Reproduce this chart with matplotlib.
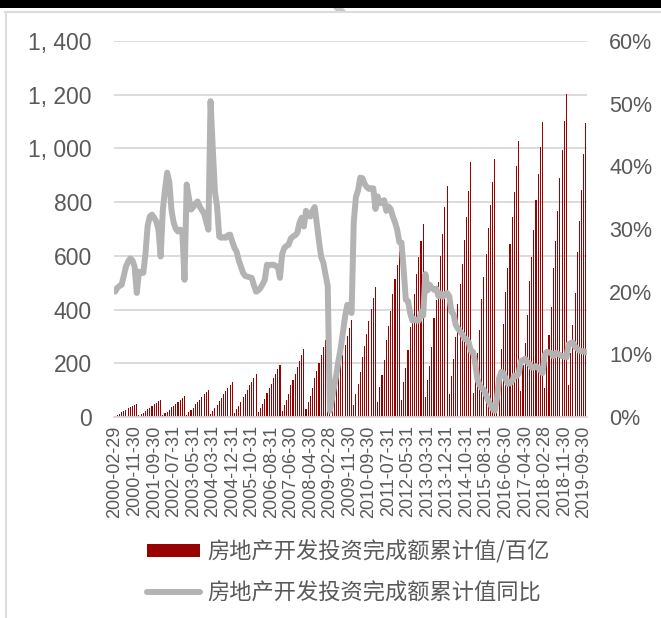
import matplotlib
matplotlib.use("Agg")
import matplotlib.pyplot as plt
import matplotlib.patches as mpatches
from matplotlib.lines import Line2D
import pandas as pd

# ---------------- data ----------------
# months: Feb..Dec of 2000-2018, Feb..Oct of 2019 (January not reported)
years = list(range(2000, 2020))

inv_2000 = [4.5, 9.0, 12.7, 17.2, 23.2, 27.4, 31.9, 36.9, 41.3, 45.6, 49.8]
inv_2001 = [5.7, 11.4, 16.2, 21.9, 29.5, 34.9, 40.6, 46.9, 52.6, 58.0, 63.4]
inv_2002 = [7.0, 14.0, 19.9, 26.9, 36.2, 42.8, 49.9, 57.6, 64.7, 71.3, 77.9]
inv_2003 = [9.1, 18.3, 25.9, 35.0, 47.2, 55.8, 65.0, 75.1, 84.2, 92.9, 101.5]
inv_2004 = [11.8, 23.7, 33.6, 45.4, 61.2, 72.4, 84.2, 97.4, 109.2, 120.4, 131.6]
inv_2005 = [14.3, 28.6, 40.6, 54.9, 74.0, 87.5, 101.8, 117.7, 132.1, 145.6, 159.1]
inv_2006 = [17.5, 35.0, 49.5, 67.0, 90.3, 106.8, 124.3, 143.7, 161.2, 177.7, 194.2]
inv_2007 = [22.8, 45.5, 64.5, 87.3, 117.6, 139.1, 161.9, 187.1, 209.9, 231.4, 252.9]
inv_2008 = [28.1, 56.2, 79.6, 107.6, 145.1, 171.6, 199.7, 230.9, 259.0, 285.5, 312.0]
inv_2009 = [32.6, 65.2, 92.4, 125.0, 168.5, 199.3, 231.9, 268.2, 300.8, 331.6, 362.4]
inv_2010 = [43.4, 86.9, 123.1, 166.5, 224.4, 265.4, 308.9, 357.1, 400.6, 441.6, 482.6]
inv_2011 = [55.6, 111.2, 157.6, 213.2, 287.4, 339.9, 395.5, 457.3, 512.9, 565.5, 618.0]
inv_2012 = [64.6, 129.2, 183.1, 247.7, 333.9, 394.9, 459.5, 531.3, 595.9, 657.0, 718.0]
inv_2013 = [73.5, 136.6, 188.5, 260.7, 368.3, 437.1, 502.2, 599.8, 680.0, 782.2, 860.1]
inv_2014 = [84.2, 153.4, 215.2, 297.7, 420.2, 494.9, 569.6, 659.8, 744.7, 840.6, 950.4]
inv_2015 = [87.9, 164.0, 236.7, 323.1, 439.6, 523.1, 606.8, 705.4, 788.0, 874.5, 959.8]
inv_2016 = [89.7, 176.8, 254.3, 348.0, 466.3, 553.6, 645.9, 746.0, 837.9, 933.9, 1025.8]
inv_2017 = [98.5, 192.9, 277.3, 378.3, 506.1, 597.6, 696.9, 806.4, 905.4, 1003.9, 1098.0]
inv_2018 = [109.7, 216.0, 305.9, 408.6, 555.3, 654.6, 765.2, 889.5, 993.3, 1100.8, 1202.6]
inv_2019 = [121.0, 238.0, 342.2, 460.8, 616.1, 728.4, 845.9, 980.1, 1096.0]

yoy_2000 = [20.0, 20.6, 20.9, 21.1, 22.5, 24.0, 24.8, 25.3, 25.0, 24.0, 19.8]
yoy_2001 = [23.2, 23.0, 23.0, 26.0, 30.5, 32.0, 32.3, 31.8, 31.2, 29.9, 25.6]
yoy_2002 = [33.0, 36.3, 39.0, 37.5, 33.0, 31.0, 30.0, 29.6, 29.9, 29.5, 21.9]
yoy_2003 = [37.1, 35.0, 33.1, 33.5, 34.0, 34.4, 33.6, 33.0, 32.5, 31.2, 29.9]
yoy_2004 = [50.4, 43.0, 36.0, 33.6, 28.8, 28.6, 28.7, 28.6, 29.0, 29.1, 28.0]
yoy_2005 = [27.0, 26.4, 25.0, 24.0, 23.0, 22.5, 22.4, 22.3, 22.2, 21.0, 20.0]
yoy_2006 = [20.2, 20.6, 21.2, 21.9, 24.3, 24.2, 24.3, 24.3, 24.1, 24.0, 22.2]
yoy_2007 = [26.0, 27.0, 27.3, 27.5, 28.5, 28.8, 29.0, 29.4, 31.0, 31.8, 30.4]
yoy_2008 = [32.9, 32.3, 32.0, 32.9, 33.5, 30.7, 28.0, 25.5, 24.6, 22.7, 20.9]
yoy_2009 = [1.0, 3.0, 4.9, 6.8, 9.1, 11.0, 13.5, 16.0, 17.9, 17.5, 16.6]
yoy_2010 = [31.1, 35.1, 36.2, 38.2, 38.1, 37.2, 36.7, 36.4, 36.5, 36.5, 33.2]
yoy_2011 = [35.2, 34.1, 34.3, 34.6, 32.9, 33.6, 33.2, 32.0, 31.1, 29.9, 27.9]
yoy_2012 = [27.8, 23.5, 18.7, 18.5, 16.6, 15.4, 15.6, 15.4, 15.4, 16.7, 16.2]
yoy_2013 = [22.8, 20.2, 21.1, 20.6, 20.3, 20.5, 19.3, 19.7, 19.2, 19.5, 19.8]
yoy_2014 = [19.3, 16.8, 16.4, 14.7, 14.1, 13.7, 13.2, 12.5, 12.4, 11.9, 10.5]
yoy_2015 = [10.4, 8.5, 6.0, 5.1, 4.6, 4.3, 3.5, 2.6, 2.0, 1.3, 1.0]
yoy_2016 = [3.0, 6.2, 7.2, 7.0, 6.1, 5.3, 5.4, 5.8, 6.6, 6.5, 6.9]
yoy_2017 = [8.9, 9.1, 9.3, 8.8, 8.5, 7.9, 7.9, 8.1, 7.8, 7.5, 7.0]
yoy_2018 = [9.9, 10.4, 10.3, 10.2, 9.7, 10.2, 10.1, 9.9, 9.7, 9.7, 9.5]
yoy_2019 = [11.6, 11.8, 11.9, 11.2, 10.9, 10.6, 10.5, 10.5, 10.3]

tick_labels = ["2000-02-29", "2000-11-30", "2001-09-30", "2002-07-31", "2003-05-31",
               "2004-03-31", "2004-12-31", "2005-10-31", "2006-08-31", "2007-06-30",
               "2008-04-30", "2009-02-28", "2009-11-30", "2010-09-30", "2011-07-31",
               "2012-05-31", "2013-03-31", "2013-12-31", "2014-10-31", "2015-08-31",
               "2016-06-30", "2017-04-30", "2018-02-28", "2018-11-30", "2019-09-30"]

label_bar = "房地产开发投资完成额累计值/百亿"
label_line = "房地产开发投资完成额累计值同比"

inv = (inv_2000 + inv_2001 + inv_2002 + inv_2003 + inv_2004 + inv_2005 + inv_2006 +
       inv_2007 + inv_2008 + inv_2009 + inv_2010 + inv_2011 + inv_2012 + inv_2013 +
       inv_2014 + inv_2015 + inv_2016 + inv_2017 + inv_2018 + inv_2019)
yoy = (yoy_2000 + yoy_2001 + yoy_2002 + yoy_2003 + yoy_2004 + yoy_2005 + yoy_2006 +
       yoy_2007 + yoy_2008 + yoy_2009 + yoy_2010 + yoy_2011 + yoy_2012 + yoy_2013 +
       yoy_2014 + yoy_2015 + yoy_2016 + yoy_2017 + yoy_2018 + yoy_2019)

months = pd.date_range("2000-02-29", "2019-10-31", freq="ME")
months = [m.strftime("%Y-%m-%d") for m in months if m.month != 1]
x = list(range(len(months)))
tick_pos = [months.index(t) for t in tick_labels]

# ---------------- style ----------------
W, H = 661, 618
RED = "#990000"
GREY_LINE = "#b3b3b3"
GRID = "#d9d9d9"
TXT = "#595959"
NUM_FONT = ["Liberation Sans", "DejaVu Sans"]
CJK_FONT = ["Noto Sans CJK SC", "DejaVu Sans"]

fig = plt.figure(figsize=(W / 100, H / 100), dpi=100)
fig.patch.set_facecolor("white")

# screenshot frame artefacts
fig.patches.append(mpatches.Rectangle((0, 1 - 8 / H), 1, 8 / H, transform=fig.transFigure,
                                      facecolor="black", edgecolor="none", zorder=0))
fig.patches.append(mpatches.Polygon([(333 / W, 1 - 8 / H), (343 / W, 1 - 8 / H),
                                     (346 / W, 1 - 11 / H), (336 / W, 1 - 11 / H)],
                                    closed=True, transform=fig.transFigure,
                                    facecolor="#c8c8c8", edgecolor="none", zorder=0))
fig.lines.append(Line2D([5 / W, 1], [1 - 11.5 / H, 1 - 11.5 / H], transform=fig.transFigure,
                        color="#dcdcdc", lw=1.5))
fig.lines.append(Line2D([5.5 / W, 5.5 / W], [0, 1 - 11.5 / H], transform=fig.transFigure,
                        color="#dcdcdc", lw=1.5))

left, right, top, bottom = 114, 587, 41, 417
ax = fig.add_axes([left / W, 1 - bottom / H, (right - left) / W, (bottom - top) / H])
ax.set_facecolor("none")

ax.bar(x, inv, width=0.5, color=RED, zorder=2, label=label_bar)
ax.set_xlim(-0.5, len(x) - 0.5)
ax.set_ylim(0, 1400)
ax.set_yticks(range(0, 1401, 200))
ax.set_yticklabels([f"{v:,}".replace(",", ", ") for v in range(0, 1401, 200)],
                   fontsize=16.5, color=TXT, family=NUM_FONT)
ax.yaxis.grid(True, color=GRID, lw=1.3, zorder=0)
ax.set_axisbelow(True)
ax.set_xticks(tick_pos)
ax.set_xticklabels(tick_labels, rotation=90, fontsize=13, color=TXT, family=NUM_FONT)
ax.tick_params(axis="y", length=0, pad=16)
ax.tick_params(axis="x", length=0, pad=6)
for s in ["top", "left", "right"]:
    ax.spines[s].set_visible(False)
ax.spines["bottom"].set_color(GRID)
ax.spines["bottom"].set_linewidth(1.3)

ax2 = ax.twinx()
ax2.plot(x, [v / 100 for v in yoy], color=GREY_LINE, lw=4.3, solid_joinstyle="round",
         solid_capstyle="round", zorder=3, label=label_line)
ax2.set_ylim(0, 0.6)
ax2.set_yticks([i / 10 for i in range(7)])
ax2.set_yticklabels([f"{i * 10}%" for i in range(7)], fontsize=15.5, color=TXT,
                    family=NUM_FONT)
ax2.tick_params(axis="y", length=0, pad=16)
for s in ["top", "left", "right", "bottom"]:
    ax2.spines[s].set_visible(False)

h1, l1 = ax.get_legend_handles_labels()
h2, l2 = ax2.get_legend_handles_labels()
leg = fig.legend(h1 + h2, l1 + l2, loc="upper left",
                 bbox_to_anchor=(147 / W, 1 - 540 / H), frameon=False,
                 prop={"family": CJK_FONT, "size": 16}, handlelength=2.4,
                 handleheight=0.55, handletextpad=0.3, labelspacing=0.8,
                 borderpad=0, borderaxespad=0)
for t in leg.get_texts():
    t.set_color(TXT)

fig.savefig("out.png", dpi=100, facecolor="white")
